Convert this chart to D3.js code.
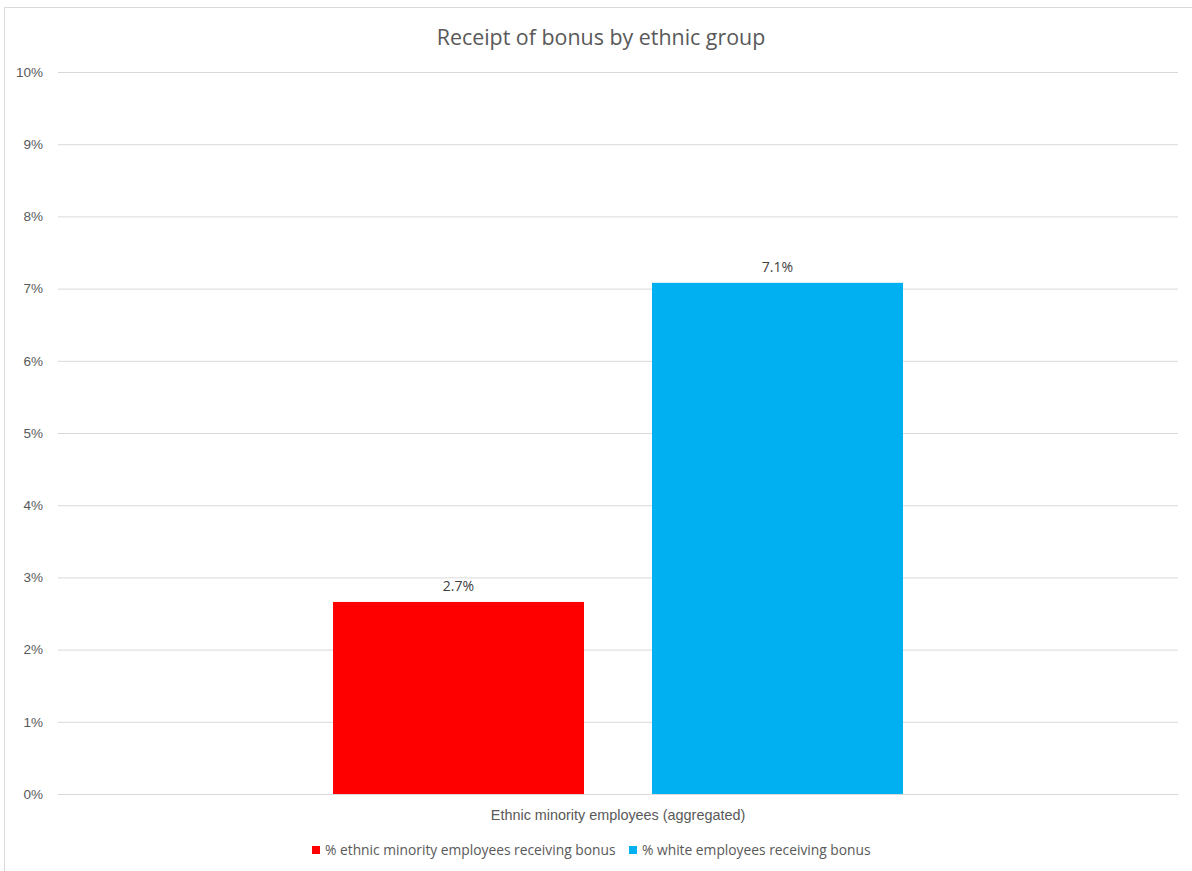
<!DOCTYPE html>
<html>
<head>
<meta charset="utf-8">
<script src="https://cdn.jsdelivr.net/npm/d3@7"></script>
<style>
  html, body { margin: 0; padding: 0; background: #fff; }
  svg { display: block; font-family: "Open Sans", sans-serif; }
</style>
</head>
<body>
<div id="chart"></div>
<script>
const categories = ['Ethnic minority employees (aggregated)'];
const seriesNames = ['% ethnic minority employees receiving bonus', '% white employees receiving bonus'];
const seriesValues = [2.66, 7.08];
const seriesColors = ['#ff0000', '#00b0f0'];
const yTicks = [0, 1, 2, 3, 4, 5, 6, 7, 8, 9, 10];

const width = 1192, height = 871;
const margin = { top: 72, right: 14, bottom: 77, left: 58 };

const svg = d3.select('#chart').append('svg')
  .attr('width', width)
  .attr('height', height);

// chart frame
svg.append('path')
  .attr('d', `M4.5,${height} V7.5 H${width}`)
  .attr('fill', 'none')
  .attr('stroke', '#d9d9d9')
  .attr('stroke-width', 1);

const x0 = d3.scaleBand()
  .domain(categories)
  .range([margin.left, width - margin.right])
  .paddingInner(0)
  .paddingOuter(0.4825);

const x1 = d3.scaleBand()
  .domain(seriesNames)
  .range([0, x0.bandwidth()])
  .paddingInner(0.2132);

const y = d3.scaleLinear()
  .domain([0, 10])
  .range([height - margin.bottom, margin.top]);

// gridlines + tick labels
const yAxis = svg.append('g')
  .attr('transform', `translate(${margin.left},0)`)
  .call(d3.axisLeft(y)
    .tickValues(yTicks)
    .tickSize(-(width - margin.left - margin.right))
    .tickPadding(15)
    .tickFormat(d => d + '%'));
yAxis.select('.domain').remove();
yAxis.selectAll('.tick line').attr('stroke', '#d9d9d9').attr('stroke-width', 1);
yAxis.selectAll('.tick text')
  .attr('fill', '#595959')
  .style('font-size', '13.5px');

// bars
const group = svg.append('g')
  .selectAll('g')
  .data(categories)
  .join('g')
  .attr('transform', d => `translate(${x0(d)},0)`);

const barData = seriesNames.map((s, i) => ({ name: s, value: seriesValues[i], color: seriesColors[i] }));

group.selectAll('rect')
  .data(barData)
  .join('rect')
  .attr('x', d => x1(d.name))
  .attr('y', d => y(d.value))
  .attr('width', x1.bandwidth())
  .attr('height', d => y(0) - y(d.value))
  .attr('fill', d => d.color);

group.selectAll('text.val')
  .data(barData)
  .join('text')
  .attr('class', 'val')
  .attr('x', d => x1(d.name) + x1.bandwidth() / 2)
  .attr('y', d => y(d.value) - 11)
  .attr('text-anchor', 'middle')
  .attr('fill', '#404040')
  .style('font-size', '14px')
  .text(d => d.value.toFixed(1) + '%');

// category axis
const xAxis = svg.append('g')
  .attr('transform', `translate(0,${y(0)})`)
  .call(d3.axisBottom(x0).tickSize(0).tickPadding(16));
xAxis.select('.domain').attr('stroke', '#d9d9d9');
xAxis.selectAll('.tick text')
  .attr('fill', '#595959')
  .style('font-size', '14.4px');

// title
svg.append('text')
  .attr('x', 601)
  .attr('y', 45)
  .attr('text-anchor', 'middle')
  .attr('fill', '#595959')
  .style('font-size', '21.4px')
  .text('Receipt of bonus by ethnic group');

// legend
const legendX = [312, 629];
const legend = svg.append('g')
  .selectAll('g')
  .data(barData)
  .join('g')
  .attr('transform', (d, i) => `translate(${legendX[i]},846)`);
legend.append('rect')
  .attr('width', 8)
  .attr('height', 8)
  .attr('fill', d => d.color);
legend.append('text')
  .attr('x', 13)
  .attr('y', 9)
  .attr('fill', '#595959')
  .style('font-size', '13.8px')
  .text(d => d.name);
</script>
</body>
</html>
